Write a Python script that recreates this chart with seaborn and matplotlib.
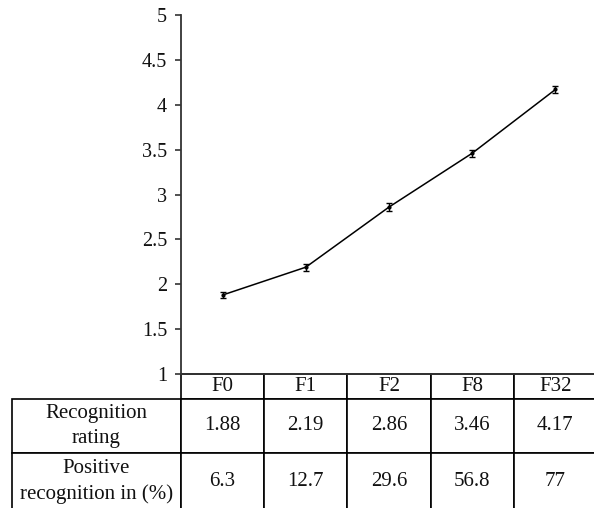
import matplotlib
matplotlib.use("Agg")
import matplotlib.pyplot as plt
import pandas as pd
import seaborn as sns

# data
conditions = ["F0", "F1", "F2", "F8", "F32"]
rating = [1.88, 2.19, 2.86, 3.46, 4.17]
rating_err = [0.035, 0.04, 0.04, 0.04, 0.035]
positive_pct = ["6.3", "12.7", "29.6", "56.8", "77"]
row_labels = ["Recognition\nrating", "Positive\nrecognition in (%)"]
y_ticks = [1, 1.5, 2, 2.5, 3, 3.5, 4, 4.5, 5]

sns.set_style("ticks")
plt.rcParams["font.family"] = ["Liberation Serif", "DejaVu Serif"]

df = pd.DataFrame({"cond": conditions, "pos": range(len(conditions)), "rating": rating})

fig = plt.figure(figsize=(5.94, 5.08), dpi=100)
W, H = 594, 508
ax_w, ax_h = 416, 359
ax = fig.add_axes([181 / W, (H - 374) / H, ax_w / W, ax_h / H])

sns.lineplot(data=df, x="pos", y="rating", color="black", linewidth=1.1, ax=ax)
ax.errorbar(df["pos"], df["rating"], yerr=rating_err, fmt="none",
            ecolor="black", elinewidth=1.0, capsize=2.5, capthick=1.0)
ax.plot(df["pos"], df["rating"], "o", color="black", markersize=2)

ax.set_xlim(-0.5, len(conditions) - 0.5)
ax.set_ylim(1, 5)
ax.set_yticks(y_ticks)
ax.set_yticklabels([f"{t:g}" for t in y_ticks], fontsize=14.5, color="#111111")
ax.set_xticks([])
ax.set_xlabel("")
ax.set_ylabel("")
ax.tick_params(axis="y", direction="out", length=4, width=1.2, color="#333333", pad=6)
for side in ["top", "right"]:
    ax.spines[side].set_visible(False)
for side in ["left", "bottom"]:
    ax.spines[side].set_linewidth(1.3)
    ax.spines[side].set_color("#333333")

# table directly below the axes, sizes in axes fractions
label_w = 169 / ax_w
cell_text = [[f"{v:.2f}" for v in rating], positive_pct]
tbl = ax.table(cellText=cell_text, rowLabels=row_labels, colLabels=conditions,
               cellLoc="center", rowLoc="center", loc="bottom")
# keep the row-label column at a fixed width (table() auto-sizes it otherwise)
if hasattr(tbl, "_autoColumns"):
    tbl._autoColumns = [c for c in tbl._autoColumns if c != -1]
tbl.auto_set_font_size(False)
tbl.set_fontsize(15)
for (r, c), cell in tbl.get_celld().items():
    cell.set_linewidth(1.2)
    cell.set_edgecolor("black")
    cell.set_height({0: 25, 1: 54}.get(r, 57) / ax_h)
    cell.set_width(label_w if c == -1 else 1 / len(conditions))
    cell.get_text().set_linespacing(1.45)
    cell.get_text().set_color("#111111")

fig.savefig("out.png", dpi=100)
